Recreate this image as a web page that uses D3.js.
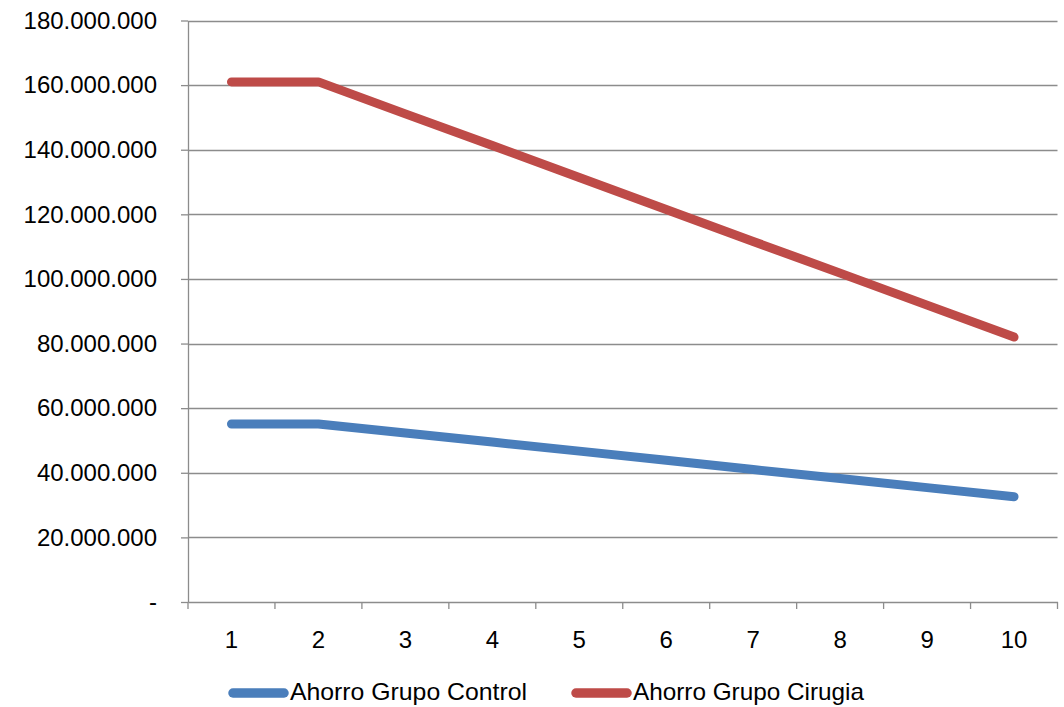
<!DOCTYPE html>
<html>
<head>
<meta charset="utf-8">
<script src="https://cdn.jsdelivr.net/npm/d3@7"></script>
<style>
  html, body { margin: 0; padding: 0; background: #fff; }
  svg { display: block; }
  text { font-family: "Liberation Sans", Arial, sans-serif; fill: #000; }
</style>
</head>
<body>
<svg id="chart" width="1064" height="707"></svg>
<script>
const categories = ["1", "2", "3", "4", "5", "6", "7", "8", "9", "10"];
const controlValues = [55100000, 55100000, 52300000, 49500000, 46700000, 43900000, 41000000, 38200000, 35400000, 32600000];
const cirugiaValues = [161000000, 161000000, 151100000, 141300000, 131400000, 121500000, 111600000, 101800000, 91900000, 82000000];
const yTicks = [0, 20000000, 40000000, 60000000, 80000000, 100000000, 120000000, 140000000, 160000000, 180000000];
const seriesNames = ["Ahorro Grupo Control", "Ahorro Grupo Cirugia"];
const seriesColors = ["#4A7EBB", "#BE4B48"];

const svg = d3.select("#chart");
const pLeft = 188, pRight = 1057.5, pTop = 20.5, pBottom = 602;

const x = d3.scaleBand().domain(categories).range([pLeft, pRight]).paddingInner(0).paddingOuter(0);
const y = d3.scaleLinear().domain([0, 180000000]).range([pBottom, pTop]);

const locale = d3.formatLocale({ decimal: ",", thousands: ".", grouping: [3], currency: ["", ""] });
const fmt = locale.format(",d");
const yFmt = v => v === 0 ? "-" : fmt(v);

const gridColor = "#8c8c8c";
const fontFam = "'Liberation Sans', Arial, sans-serif";

// gridlines
svg.append("g").selectAll("line").data(yTicks.filter(d => d !== 0)).join("line")
  .attr("x1", pLeft).attr("x2", pRight)
  .attr("y1", d => Math.round(y(d)) + 0.5).attr("y2", d => Math.round(y(d)) + 0.5)
  .attr("stroke", gridColor).attr("stroke-width", 1.3);

// y axis
const yAxis = d3.axisLeft(y).tickValues(yTicks).tickFormat(yFmt).tickSizeInner(7).tickSizeOuter(0).tickPadding(24);
const gy = svg.append("g").attr("transform", `translate(${pLeft},0)`).call(yAxis);
gy.select(".domain").attr("stroke", gridColor).attr("stroke-width", 1.3);
gy.selectAll(".tick line").attr("stroke", gridColor).attr("stroke-width", 1.3);
gy.selectAll(".tick text").attr("font-size", 24).attr("font-family", fontFam).attr("fill", "#000");

// x axis
const xAxis = d3.axisBottom(x).tickSize(0).tickPadding(29);
const gx = svg.append("g").attr("transform", `translate(0,${pBottom})`).call(xAxis);
gx.select(".domain").attr("stroke", gridColor).attr("stroke-width", 1.3);
gx.selectAll(".tick text").attr("font-size", 24).attr("font-family", fontFam).attr("fill", "#000");
// category boundary ticks
const boundaries = categories.map(c => x(c)).concat([x(categories[categories.length - 1]) + x.bandwidth()]);
gx.append("g").selectAll("line").data(boundaries).join("line")
  .attr("x1", d => d).attr("x2", d => d).attr("y1", 0).attr("y2", 7)
  .attr("stroke", gridColor).attr("stroke-width", 1.3);

// lines
const line = d3.line()
  .x((d, i) => x(categories[i]) + x.bandwidth() / 2)
  .y(d => y(d));

[controlValues, cirugiaValues].forEach((vals, i) => {
  svg.append("path").datum(vals)
    .attr("d", line)
    .attr("fill", "none")
    .attr("stroke", seriesColors[i])
    .attr("stroke-width", 9)
    .attr("stroke-linecap", "round")
    .attr("stroke-linejoin", "round");
});

// legend
const legendX = [233, 576];
const legendTextLen = [237, 231];
const legendY = 693;
seriesNames.forEach((name, i) => {
  const g = svg.append("g").attr("transform", `translate(${legendX[i]},${legendY})`);
  g.append("line").attr("x1", 0).attr("x2", 51).attr("y1", 0).attr("y2", 0)
    .attr("stroke", seriesColors[i]).attr("stroke-width", 9.5).attr("stroke-linecap", "round");
  g.append("text").attr("x", 57).attr("y", 6.5).attr("font-size", 24)
    .attr("textLength", legendTextLen[i]).attr("lengthAdjust", "spacingAndGlyphs")
    .text(name);
});
</script>
</body>
</html>
